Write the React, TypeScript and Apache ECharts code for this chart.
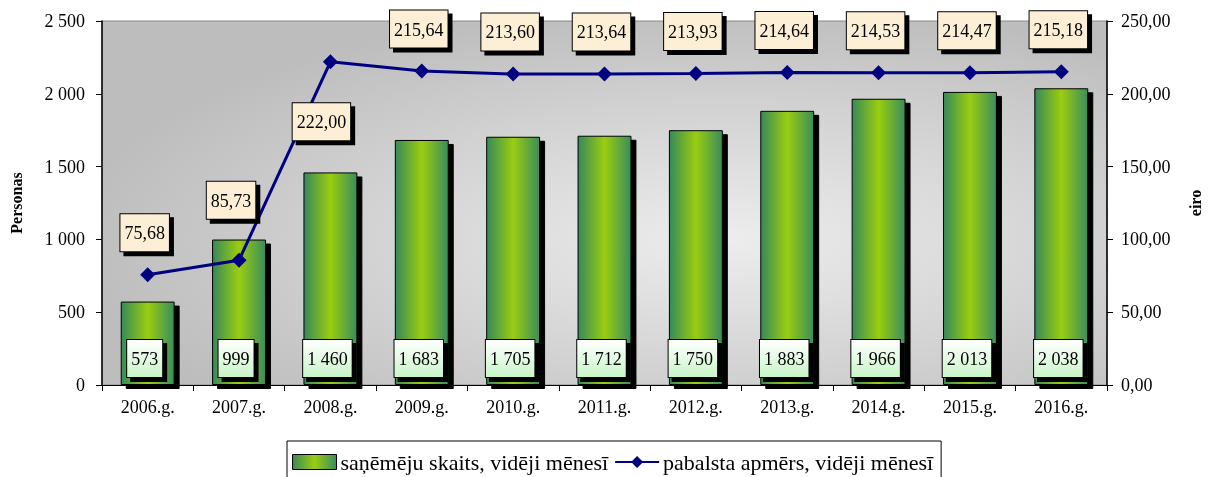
import React, { useEffect, useRef } from "react";
import * as echarts from "echarts";

const categories = ["2006.g.", "2007.g.", "2008.g.", "2009.g.", "2010.g.", "2011.g.", "2012.g.", "2013.g.", "2014.g.", "2015.g.", "2016.g."];
const recipients = [573, 999, 1460, 1683, 1705, 1712, 1750, 1883, 1966, 2013, 2038];
const benefit = [75.68, 85.73, 222.0, 215.64, 213.6, 213.64, 213.93, 214.64, 214.53, 214.47, 215.18];
const barName = "saņēmēju skaits, vidēji mēnesī";
const lineName = "pabalsta apmērs, vidēji mēnesī";

const FONT = "'Liberation Serif', 'Times New Roman', serif";

const thousands = (n: number) => String(n).replace(/\B(?=(\d{3})+(?!\d))/g, " ");
const euro = (n: number) => n.toFixed(2).replace(".", ",");

export default function App() {
  const ref = useRef<HTMLDivElement>(null);
  useEffect(() => {
    if (!ref.current) return;
    const chart = echarts.init(ref.current, null, { renderer: "svg" });
    const barGrad = new echarts.graphic.LinearGradient(0, 0, 1, 0, [
      { offset: 0, color: "#37895a" },
      { offset: 0.5, color: "#9acd10" },
      { offset: 1, color: "#3a8d5e" },
    ]);
    const legendGrad = new echarts.graphic.LinearGradient(0, 0, 1, 0, [
      { offset: 0, color: "#37895a" },
      { offset: 0.5, color: "#9acd10" },
      { offset: 1, color: "#3a8d5e" },
    ]);
    const barLabelBg = new echarts.graphic.LinearGradient(0, 0, 0, 1, [
      { offset: 0, color: "#ffffff" },
      { offset: 1, color: "#c8f5c8" },
    ]);
    const lineLabelBase = {
      show: true,
      color: "#000",
      fontFamily: FONT,
      fontSize: 18,
      backgroundColor: "#fdefd6",
      borderColor: "#000",
      borderWidth: 1,
      padding: [10, 4, 9, 4],
      shadowColor: "#000",
      shadowBlur: 0,
      shadowOffsetX: 4,
      shadowOffsetY: 4,
      formatter: (p: any) => euro(p.value),
    };
    const lineData = benefit.map((v, i) => {
      if (i === 1) return { value: v, label: { position: "top", distance: 34, offset: [-8, 0] } };
      if (i === 2) return { value: v, label: { position: "bottom", distance: 34, offset: [-9, 0] } };
      return { value: v };
    });
    chart.setOption({
      animation: false,
      grid: {
        left: 100,
        right: 94,
        top: 21,
        bottom: 92,
        show: true,
        borderColor: "#888",
        borderWidth: 1,
        backgroundColor: new echarts.graphic.RadialGradient(0.62, 0.6, 0.65, [
          { offset: 0, color: "#ededed" },
          { offset: 1, color: "#bdbdbd" },
        ]),
      },
      legend: {
        data: [
          { name: barName, icon: "rect", itemStyle: { color: legendGrad, borderColor: "#000", borderWidth: 1 } },
          { name: lineName },
        ],
        top: 441,
        left: 287,
        borderColor: "#000",
        borderWidth: 1,
        padding: [10, 8, 10, 5],
        itemGap: 6,
        itemWidth: 44,
        itemHeight: 15,
        textStyle: { fontFamily: FONT, fontSize: 22, color: "#000", padding: [0, 0, 0, -1] },
      },
      xAxis: {
        type: "category",
        data: categories,
        boundaryGap: true,
        axisLine: { lineStyle: { color: "#000", width: 1 } },
        axisTick: { show: true, length: 6, lineStyle: { color: "#000" } },
        axisLabel: { fontFamily: FONT, fontSize: 18, color: "#000", margin: 13 },
      },
      yAxis: [
        {
          type: "value",
          min: 0,
          max: 2500,
          interval: 500,
          name: "Personas",
          nameLocation: "middle",
          nameRotate: 90,
          nameGap: 78,
          nameTextStyle: { fontFamily: FONT, fontSize: 16, fontWeight: "bold", color: "#000" },
          axisLine: { show: true, lineStyle: { color: "#000", width: 1.5 } },
          axisTick: { show: true, length: 6, lineStyle: { color: "#000" } },
          splitLine: { show: false },
          axisLabel: { fontFamily: FONT, fontSize: 18, color: "#000", margin: 17, formatter: (v: number) => thousands(v) },
        },
        {
          type: "value",
          min: 0,
          max: 250,
          interval: 50,
          name: "eiro",
          nameLocation: "middle",
          nameRotate: 90,
          nameGap: 80,
          nameTextStyle: { fontFamily: FONT, fontSize: 16, fontWeight: "bold", color: "#000" },
          axisLine: { show: true, lineStyle: { color: "#000", width: 1.5 } },
          axisTick: { show: true, length: 6, lineStyle: { color: "#000" } },
          splitLine: { show: false },
          axisLabel: { fontFamily: FONT, fontSize: 18, color: "#000", margin: 14, formatter: (v: number) => euro(v) },
        },
      ],
      series: [
        {
          name: barName,
          type: "bar",
          data: recipients,
          barWidth: "59%",
          itemStyle: {
            color: barGrad,
            borderColor: "#000",
            borderWidth: 1,
            shadowColor: "#000",
            shadowBlur: 0,
            shadowOffsetX: 5,
            shadowOffsetY: 4,
          },
          label: {
            show: true,
            position: "insideBottom",
            distance: 8,
            offset: [-3, 0],
            color: "#000",
            fontFamily: FONT,
            fontSize: 18,
            backgroundColor: barLabelBg,
            borderColor: "#000",
            borderWidth: 1,
            padding: [10, 4, 9, 4],
            shadowColor: "#000",
            shadowBlur: 0,
            shadowOffsetX: 4,
            shadowOffsetY: 4,
            formatter: (p: any) => thousands(p.value),
          },
          z: 2,
        },
        {
          name: lineName,
          type: "line",
          yAxisIndex: 1,
          data: lineData,
          symbol: "diamond",
          symbolSize: 15,
          lineStyle: { color: "#000080", width: 3 },
          itemStyle: { color: "#000080" },
          label: { ...lineLabelBase, position: "top", distance: 16, offset: [-3, 0] },
          z: 5,
        },
      ],
    });
    return () => chart.dispose();
  }, []);
  return <div ref={ref} style={{ position: "fixed", left: 0, top: 0, width: 1211, height: 477 }} />;
}
